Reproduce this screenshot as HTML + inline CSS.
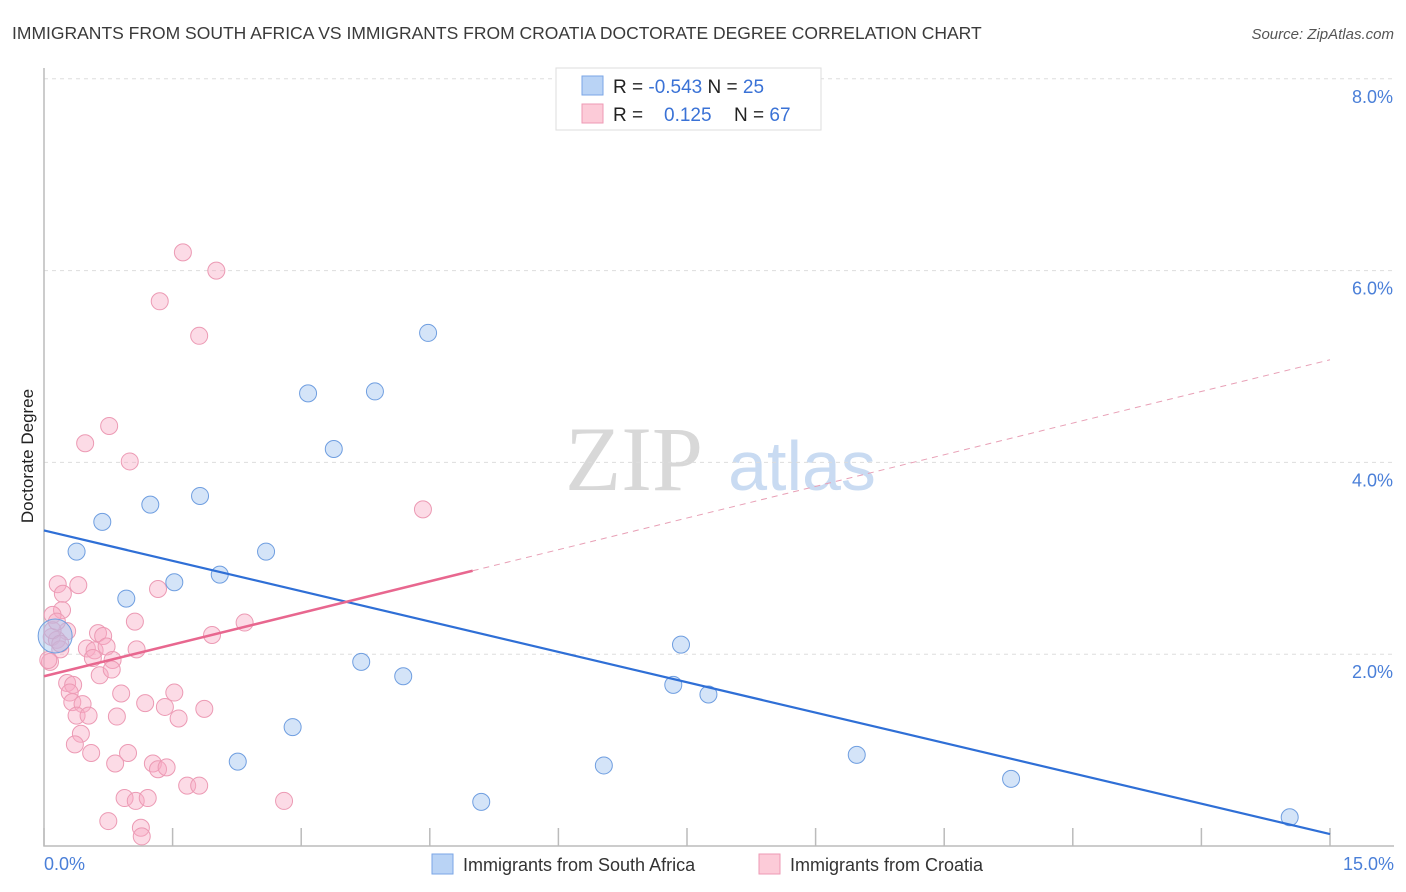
<!DOCTYPE html>
<html><head><meta charset="utf-8"><style>
body{margin:0;background:#fff;font-family:"Liberation Sans",sans-serif;}
</style></head><body>
<svg id="chart" width="1406" height="892" xmlns="http://www.w3.org/2000/svg" style="display:block">
<text x="12" y="39" font-size="17.5" fill="#3a3a3a">IMMIGRANTS FROM SOUTH AFRICA VS IMMIGRANTS FROM CROATIA DOCTORATE DEGREE CORRELATION CHART</text>
<text x="1394" y="39" font-size="15" fill="#555" text-anchor="end" font-style="italic">Source: ZipAtlas.com</text>
<g>
<text x="634" y="490" font-size="92" fill="#d8d8d8" text-anchor="middle" font-family="Liberation Serif,serif">ZIP</text>
<text x="802" y="490" font-size="70" fill="#c9dbf2" text-anchor="middle">atlas</text>
</g>
<g id="grid"></g><g id="axes"></g><g id="pts"></g><g id="trend"></g>
<text transform="translate(33,456) rotate(-90)" font-size="17" fill="#222" text-anchor="middle">Doctorate Degree</text>
<text x="44" y="870" font-size="18" fill="#4a7fd8">0.0%</text>
<text x="1394" y="870" font-size="18" fill="#4a7fd8" text-anchor="end">15.0%</text>
<g>
<rect x="556" y="68" width="265" height="62" fill="#fff" stroke="#ddd"/>
<rect x="582" y="76" width="21" height="19" fill="#b9d3f5" stroke="#7aa6e6"/>
<rect x="582" y="104" width="21" height="19" fill="#fccbd8" stroke="#ee9ab4"/>
<text x="613" y="93" font-size="19" fill="#222">R = <tspan fill="#3a72d6">-0.543</tspan>   N = <tspan fill="#3a72d6">25</tspan></text>
<text x="613" y="121" font-size="19" fill="#222">R = <tspan fill="#3a72d6" x="664">0.125</tspan><tspan x="734">N = </tspan><tspan fill="#3a72d6">67</tspan></text>
</g>
<g>
<rect x="432" y="854" width="21" height="20" fill="#b9d3f5" stroke="#7aa6e6"/>
<text x="463" y="871" font-size="18" fill="#333">Immigrants from South Africa</text>
<rect x="759" y="854" width="21" height="20" fill="#fccbd8" stroke="#ee9ab4"/>
<text x="790" y="871" font-size="18" fill="#333">Immigrants from Croatia</text>
</g>
</svg>
<script>
const blueX=[0.38,0.68,0.96,1.24,1.52,1.82,2.05,2.59,3.08,3.38,3.86,4.48,2.90,2.26,3.70,4.19,5.10,6.53,7.34,7.43,7.75,9.48,11.28,14.53,0.13];
const blueY=[3.07,3.38,2.58,3.56,2.75,3.65,2.83,3.07,4.72,4.14,4.74,5.35,1.24,0.88,1.92,1.77,0.46,0.84,1.68,2.10,1.58,0.95,0.70,0.30,2.19];
const pinkX=[0.16,0.40,0.22,0.21,0.10,0.27,0.09,0.15,0.19,0.07,0.63,0.69,0.50,0.59,0.73,0.57,0.80,0.65,0.79,1.06,1.33,1.08,1.96,2.34,0.27,0.34,0.30,0.33,0.45,0.38,0.52,0.90,1.18,1.41,1.52,1.57,0.85,1.87,0.43,0.36,0.55,0.98,0.83,1.27,1.33,1.43,1.67,1.81,2.80,0.94,1.07,1.21,0.75,1.13,1.14,1.62,2.01,1.35,1.81,0.76,0.48,1.00,4.42,0.10,0.05,0.15,0.19];
const pinkY=[2.73,2.72,2.63,2.46,2.41,2.24,2.18,2.15,2.05,1.92,2.22,2.19,2.06,2.04,2.08,1.96,1.94,1.78,1.84,2.34,2.68,2.05,2.20,2.33,1.70,1.68,1.60,1.50,1.48,1.36,1.36,1.59,1.49,1.45,1.60,1.33,1.35,1.43,1.17,1.06,0.97,0.97,0.86,0.86,0.80,0.82,0.63,0.63,0.47,0.50,0.47,0.50,0.26,0.19,0.10,6.19,6.00,5.68,5.32,4.38,4.20,4.01,3.51,2.25,1.94,2.34,2.11];
const yTicks=[2,4,6,8];
const yTickLabels=["2.0%","4.0%","6.0%","8.0%"];
const xTicks=[0,1.5,3,4.5,6,7.5,9,10.5,12,13.5,15];
const blueTrend=[3.29,-0.211];
const pinkTrend=[1.77,0.22];
const pinkSolidEnd=5.0;
const NS="http://www.w3.org/2000/svg";
const X=v=>44+v/15*1286, Y=v=>846-v*95.9;
function mk(p,t,a){const e=document.createElementNS(NS,t);for(const k in a)e.setAttribute(k,a[k]);p.appendChild(e);return e;}
const grid=document.getElementById('grid'),axes=document.getElementById('axes'),pts=document.getElementById('pts'),tr=document.getElementById('trend');
yTicks.forEach((v,i)=>{
 const l=mk(grid,'line',{x1:44,x2:1394,y1:Y(v),y2:Y(v),stroke:'#ddd','stroke-dasharray':'4,4'});
 
 
 const t=mk(grid,'text',{x:1393,y:Y(v)+24,'font-size':18,fill:'#4a7fd8','text-anchor':'end'});
 t.textContent=yTickLabels[i];
 
 
});
const ax=mk(axes,'path',{d:'M44,68V846H1394',fill:'none',stroke:'#bbb','stroke-width':1.5});


xTicks.forEach(v=>{
 const t=mk(axes,'line',{x1:X(v),x2:X(v),y1:828,y2:846,stroke:'#bbb','stroke-width':1.5});
 
 
});
pinkX.forEach((v,i)=>{
 const c=mk(pts,'circle',{cx:X(v),cy:Y(pinkY[i]),r:8.5,fill:'rgba(248,170,195,0.42)',stroke:'#ec9ab4','stroke-width':1});
 
 
});
blueX.forEach((v,i)=>{
 const big=i===blueX.length-1;
 const c=mk(pts,'circle',{cx:X(v),cy:Y(blueY[i]),r:big?17:8.5,fill:'rgba(160,196,240,0.45)',stroke:'#6f9ee0','stroke-width':1});
 
 
});
let l=mk(tr,'line',{x1:X(0),y1:Y(blueTrend[0]),x2:X(15),y2:Y(blueTrend[0]+15*blueTrend[1]),stroke:'#2f6fd6','stroke-width':2.2});


l=mk(tr,'line',{x1:X(0),y1:Y(pinkTrend[0]),x2:X(pinkSolidEnd),y2:Y(pinkTrend[0]+pinkSolidEnd*pinkTrend[1]),stroke:'#e8678f','stroke-width':2.5});


l=mk(tr,'line',{x1:X(pinkSolidEnd),y1:Y(pinkTrend[0]+pinkSolidEnd*pinkTrend[1]),x2:X(15),y2:Y(pinkTrend[0]+15*pinkTrend[1]),stroke:'#e8a0b6','stroke-width':1,'stroke-dasharray':'6,5'});


</script>
</body></html>
